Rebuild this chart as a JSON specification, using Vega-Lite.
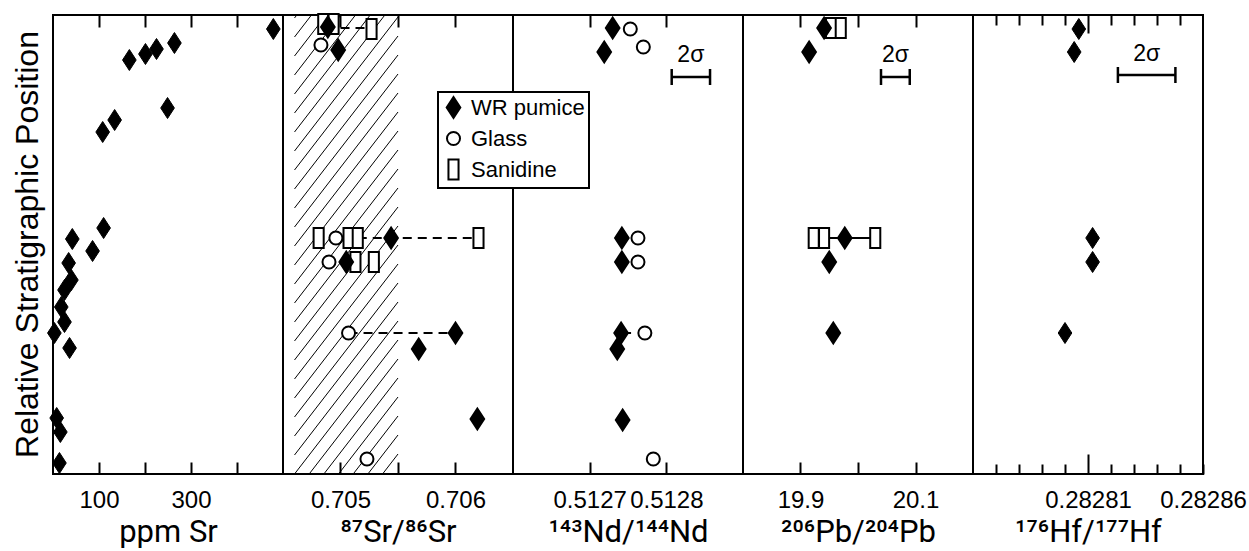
{
  "$schema": "https://vega.github.io/schema/vega-lite/v6.json",
  "padding": {"left": 10, "top": 9, "right": 0, "bottom": 0},
  "background": "white",
  "spacing": 0,
  "bounds": "flush",
  "datasets": {
    "pts": [
      {"panel": "ppm", "phase": "WR pumice", "pos": 445, "v": 479},
      {"panel": "ppm", "phase": "WR pumice", "pos": 431, "v": 264},
      {"panel": "ppm", "phase": "WR pumice", "pos": 425, "v": 225},
      {"panel": "ppm", "phase": "WR pumice", "pos": 420, "v": 201},
      {"panel": "ppm", "phase": "WR pumice", "pos": 414, "v": 166},
      {"panel": "ppm", "phase": "WR pumice", "pos": 366, "v": 249},
      {"panel": "ppm", "phase": "WR pumice", "pos": 354, "v": 134},
      {"panel": "ppm", "phase": "WR pumice", "pos": 342, "v": 108},
      {"panel": "ppm", "phase": "WR pumice", "pos": 246, "v": 110},
      {"panel": "ppm", "phase": "WR pumice", "pos": 235, "v": 42},
      {"panel": "ppm", "phase": "WR pumice", "pos": 223, "v": 86},
      {"panel": "ppm", "phase": "WR pumice", "pos": 211, "v": 34},
      {"panel": "ppm", "phase": "WR pumice", "pos": 194, "v": 40},
      {"panel": "ppm", "phase": "WR pumice", "pos": 184, "v": 25},
      {"panel": "ppm", "phase": "WR pumice", "pos": 167, "v": 18},
      {"panel": "ppm", "phase": "WR pumice", "pos": 152, "v": 25},
      {"panel": "ppm", "phase": "WR pumice", "pos": 141, "v": 3},
      {"panel": "ppm", "phase": "WR pumice", "pos": 126, "v": 36},
      {"panel": "ppm", "phase": "WR pumice", "pos": 56, "v": 8},
      {"panel": "ppm", "phase": "WR pumice", "pos": 42, "v": 16},
      {"panel": "ppm", "phase": "WR pumice", "pos": 11, "v": 14},

      {"panel": "sr", "phase": "Sanidine", "pos": 450, "v": 0.70485},
      {"panel": "sr", "phase": "Sanidine", "pos": 450, "v": 0.70494},
      {"panel": "sr", "phase": "Sanidine", "pos": 445, "v": 0.70527},
      {"panel": "sr", "phase": "Sanidine", "pos": 236, "v": 0.70481},
      {"panel": "sr", "phase": "Sanidine", "pos": 236, "v": 0.70507},
      {"panel": "sr", "phase": "Sanidine", "pos": 236, "v": 0.70515},
      {"panel": "sr", "phase": "Sanidine", "pos": 236, "v": 0.70620},
      {"panel": "sr", "phase": "Sanidine", "pos": 212, "v": 0.70513},
      {"panel": "sr", "phase": "Sanidine", "pos": 212, "v": 0.70529},
      {"panel": "sr", "phase": "Glass", "pos": 429, "v": 0.70483},
      {"panel": "sr", "phase": "Glass", "pos": 236, "v": 0.70496},
      {"panel": "sr", "phase": "Glass", "pos": 212, "v": 0.70490},
      {"panel": "sr", "phase": "Glass", "pos": 141, "v": 0.70507},
      {"panel": "sr", "phase": "Glass", "pos": 15, "v": 0.70523},
      {"panel": "sr", "phase": "WR pumice", "pos": 447, "v": 0.70489},
      {"panel": "sr", "phase": "WR pumice", "pos": 424, "v": 0.70498},
      {"panel": "sr", "phase": "WR pumice", "pos": 236, "v": 0.70544},
      {"panel": "sr", "phase": "WR pumice", "pos": 212, "v": 0.70505},
      {"panel": "sr", "phase": "WR pumice", "pos": 141, "v": 0.70600},
      {"panel": "sr", "phase": "WR pumice", "pos": 125, "v": 0.70568},
      {"panel": "sr", "phase": "WR pumice", "pos": 55, "v": 0.70619},

      {"panel": "nd", "phase": "Glass", "pos": 445, "v": 0.512753},
      {"panel": "nd", "phase": "Glass", "pos": 427, "v": 0.51277},
      {"panel": "nd", "phase": "Glass", "pos": 236, "v": 0.512763},
      {"panel": "nd", "phase": "Glass", "pos": 212, "v": 0.512763},
      {"panel": "nd", "phase": "Glass", "pos": 141, "v": 0.512772},
      {"panel": "nd", "phase": "Glass", "pos": 15, "v": 0.512783},
      {"panel": "nd", "phase": "WR pumice", "pos": 446, "v": 0.51273},
      {"panel": "nd", "phase": "WR pumice", "pos": 422, "v": 0.512719},
      {"panel": "nd", "phase": "WR pumice", "pos": 236, "v": 0.512742},
      {"panel": "nd", "phase": "WR pumice", "pos": 212, "v": 0.512742},
      {"panel": "nd", "phase": "WR pumice", "pos": 141, "v": 0.512741},
      {"panel": "nd", "phase": "WR pumice", "pos": 125, "v": 0.512736},
      {"panel": "nd", "phase": "WR pumice", "pos": 54, "v": 0.512743},

      {"panel": "pb", "phase": "Sanidine", "pos": 446, "v": 19.953},
      {"panel": "pb", "phase": "Sanidine", "pos": 446, "v": 19.970},
      {"panel": "pb", "phase": "Sanidine", "pos": 236, "v": 19.923},
      {"panel": "pb", "phase": "Sanidine", "pos": 236, "v": 19.941},
      {"panel": "pb", "phase": "Sanidine", "pos": 236, "v": 20.030},
      {"panel": "pb", "phase": "WR pumice", "pos": 446, "v": 19.941},
      {"panel": "pb", "phase": "WR pumice", "pos": 422, "v": 19.915},
      {"panel": "pb", "phase": "WR pumice", "pos": 236, "v": 19.977},
      {"panel": "pb", "phase": "WR pumice", "pos": 212, "v": 19.950},
      {"panel": "pb", "phase": "WR pumice", "pos": 141, "v": 19.957},

      {"panel": "hf", "phase": "WR pumice", "pos": 445, "v": 0.282806},
      {"panel": "hf", "phase": "WR pumice", "pos": 422, "v": 0.282804},
      {"panel": "hf", "phase": "WR pumice", "pos": 236, "v": 0.282812},
      {"panel": "hf", "phase": "WR pumice", "pos": 212, "v": 0.282812},
      {"panel": "hf", "phase": "WR pumice", "pos": 141, "v": 0.2828}
    ],
    "links": [
      {"panel": "sr", "pos": 446, "lo": 0.70500, "hi": 0.70527},
      {"panel": "sr", "pos": 236, "lo": 0.70515, "hi": 0.70620},
      {"panel": "sr", "pos": 141, "lo": 0.70507, "hi": 0.70600},
      {"panel": "nd", "pos": 141, "lo": 0.512741, "hi": 0.512754},
      {"panel": "pb", "pos": 236, "lo": 19.941, "hi": 20.030}
    ],
    "sigma": [
      {"panel": "nd", "lo": 0.512807, "hi": 0.512857, "mid": 0.512832, "pos": 397, "tpos": 419, "label": "2σ"},
      {"panel": "pb", "lo": 20.040, "hi": 20.090, "mid": 20.065, "pos": 397, "tpos": 419, "label": "2σ"},
      {"panel": "hf", "lo": 0.282823, "hi": 0.282848, "mid": 0.2828355, "pos": 399, "tpos": 420, "label": "2σ"}
    ],
    "hatch": [
      {"y1": -133, "y2": 1}, {"y1": -114, "y2": 20}, {"y1": -95, "y2": 39}, {"y1": -76, "y2": 58},
      {"y1": -57, "y2": 77}, {"y1": -38, "y2": 96}, {"y1": -19, "y2": 115}, {"y1": 0, "y2": 134},
      {"y1": 19, "y2": 153}, {"y1": 38, "y2": 172}, {"y1": 57, "y2": 191}, {"y1": 76, "y2": 210},
      {"y1": 95, "y2": 229}, {"y1": 114, "y2": 248}, {"y1": 133, "y2": 267}, {"y1": 152, "y2": 286},
      {"y1": 171, "y2": 305}, {"y1": 190, "y2": 324}, {"y1": 209, "y2": 343}, {"y1": 228, "y2": 362},
      {"y1": 247, "y2": 381}, {"y1": 266, "y2": 400}, {"y1": 285, "y2": 419}, {"y1": 304, "y2": 438},
      {"y1": 323, "y2": 457}, {"y1": 342, "y2": 476}, {"y1": 361, "y2": 495}, {"y1": 380, "y2": 514},
      {"y1": 399, "y2": 533}, {"y1": 418, "y2": 552}, {"y1": 437, "y2": 571}, {"y1": 456, "y2": 590}
    ]
  },
  "hconcat": [
    {
      "width": 230, "height": 459,
      "title": {"text": "Relative Stratigraphic Position", "orient": "left", "anchor": "middle", "frame": "group", "fontSize": 32, "font": "Liberation Sans", "fontWeight": "normal", "color": "black", "offset": 1},
      "layer": [
        {
          "data": {"name": "pts"},
          "transform": [{"filter": "datum.panel == 'ppm'"}],
          "mark": {"type": "point", "size": 441, "strokeWidth": 1, "opacity": 1, "fillOpacity": 1},
          "encoding": {
            "x": {"field": "v", "type": "quantitative", "scale": {"domain": [0, 500], "nice": false, "zero": false},
                  "axis": {"orient": "bottom", "values": [100, 200, 300, 400], "format": "d", "labelExpr": "datum.value == 100 || datum.value == 300 ? datum.label : ''", "title": "ppm Sr"}},
            "y": {"field": "pos", "type": "quantitative", "scale": {"domain": [0, 459], "nice": false, "zero": false}, "axis": null},
            "shape": {"field": "phase", "type": "nominal", "legend": {"title": null},
                      "scale": {"domain": ["WR pumice", "Glass", "Sanidine"], "range": ["M0,-1L0.65,0L0,1L-0.65,0Z", "M0.62,0A0.62,0.62,0,1,1,-0.62,0A0.62,0.62,0,1,1,0.62,0Z", "M-0.48,-0.95L0.48,-0.95L0.48,0.95L-0.48,0.95Z"]}},
            "fill": {"field": "phase", "type": "nominal", "legend": {"title": null},
                     "scale": {"domain": ["WR pumice", "Glass", "Sanidine"], "range": ["black", "white", "white"]}},
            "stroke": {"field": "phase", "type": "nominal", "legend": {"title": null},
                     "scale": {"domain": ["WR pumice", "Glass", "Sanidine"], "range": ["black", "black", "black"]}}
          }
        },
        {
          "data": {"name": "pts"},
          "transform": [{"filter": "datum.panel == 'ppm'"}],
          "mark": {"type": "point", "opacity": 0},
          "encoding": {
            "x": {"field": "v", "type": "quantitative", "scale": {"domain": [0, 500], "nice": false, "zero": false},
                  "axis": {"orient": "top", "values": [100, 200, 300, 400], "labels": false, "title": null}},
            "y": {"field": "pos", "type": "quantitative", "scale": {"domain": [0, 459], "nice": false, "zero": false}, "axis": null}
          }
        }
      ],
      "resolve": {"axis": {"x": "independent"}}
    },
    {
      "width": 230, "height": 459,
      "layer": [
        {
          "data": {"name": "hatch"},
          "mark": {"type": "rule", "clip": true, "stroke": "black", "strokeWidth": 1},
          "encoding": {
            "x": {"datum": 0.7046, "type": "quantitative", "scale": {"domain": [0.7045, 0.7065], "nice": false, "zero": false}, "axis": null},
            "x2": {"datum": 0.7055},
            "y": {"field": "y1", "type": "quantitative", "scale": {"domain": [0, 459], "nice": false, "zero": false}, "axis": null},
            "y2": {"field": "y2"}
          }
        },
        {
          "data": {"name": "links"},
          "transform": [{"filter": "datum.panel == 'sr'"}],
          "mark": {"type": "rule", "stroke": "black", "strokeWidth": 2, "strokeDash": [9, 6]},
          "encoding": {
            "x": {"field": "lo", "type": "quantitative", "scale": {"domain": [0.7045, 0.7065], "nice": false, "zero": false}, "axis": null},
            "x2": {"field": "hi"},
            "y": {"field": "pos", "type": "quantitative", "scale": {"domain": [0, 459], "nice": false, "zero": false}, "axis": null}
          }
        },
        {
          "data": {"name": "pts"},
          "transform": [{"filter": "datum.panel == 'sr'"}],
          "mark": {"type": "point", "size": 441, "strokeWidth": 2, "opacity": 1, "fillOpacity": 1},
          "encoding": {
            "x": {"field": "v", "type": "quantitative", "scale": {"domain": [0.7045, 0.7065], "nice": false, "zero": false},
                  "axis": {"orient": "bottom", "values": [0.705, 0.7055, 0.706], "format": ".3f", "labelExpr": "abs(datum.value - 0.7055) < 1e-7 ? '' : datum.label", "title": "⁸⁷Sr/⁸⁶Sr"}},
            "y": {"field": "pos", "type": "quantitative", "scale": {"domain": [0, 459], "nice": false, "zero": false}, "axis": null},
            "shape": {"field": "phase", "type": "nominal", "legend": {"title": null},
                      "scale": {"domain": ["WR pumice", "Glass", "Sanidine"], "range": ["M0,-1L0.65,0L0,1L-0.65,0Z", "M0.62,0A0.62,0.62,0,1,1,-0.62,0A0.62,0.62,0,1,1,0.62,0Z", "M-0.48,-0.95L0.48,-0.95L0.48,0.95L-0.48,0.95Z"]}},
            "fill": {"field": "phase", "type": "nominal", "legend": {"title": null},
                     "scale": {"domain": ["WR pumice", "Glass", "Sanidine"], "range": ["black", "white", "white"]}},
            "stroke": {"field": "phase", "type": "nominal", "legend": {"title": null},
                     "scale": {"domain": ["WR pumice", "Glass", "Sanidine"], "range": ["black", "black", "black"]}}
          }
        },
        {
          "data": {"name": "pts"},
          "transform": [{"filter": "datum.panel == 'sr'"}],
          "mark": {"type": "point", "opacity": 0},
          "encoding": {
            "x": {"field": "v", "type": "quantitative", "scale": {"domain": [0.7045, 0.7065], "nice": false, "zero": false},
                  "axis": {"orient": "top", "values": [0.705, 0.7055, 0.706], "labels": false, "title": null}},
            "y": {"field": "pos", "type": "quantitative", "scale": {"domain": [0, 459], "nice": false, "zero": false}, "axis": null}
          }
        }
      ],
      "resolve": {"axis": {"x": "independent"}}
    },
    {
      "width": 230, "height": 459,
      "layer": [
        {
          "data": {"name": "links"},
          "transform": [{"filter": "datum.panel == 'nd'"}],
          "mark": {"type": "rule", "stroke": "black", "strokeWidth": 2},
          "encoding": {
            "x": {"field": "lo", "type": "quantitative", "scale": {"domain": [0.5126, 0.5129], "nice": false, "zero": false}, "axis": null},
            "x2": {"field": "hi"},
            "y": {"field": "pos", "type": "quantitative", "scale": {"domain": [0, 459], "nice": false, "zero": false}, "axis": null}
          }
        },
        {
          "data": {"name": "sigma"},
          "transform": [{"filter": "datum.panel == 'nd'"}],
          "mark": {"type": "rule", "stroke": "black", "strokeWidth": 2.5},
          "encoding": {
            "x": {"field": "lo", "type": "quantitative", "scale": {"domain": [0.5126, 0.5129], "nice": false, "zero": false}, "axis": null},
            "x2": {"field": "hi"},
            "y": {"field": "pos", "type": "quantitative", "scale": {"domain": [0, 459], "nice": false, "zero": false}, "axis": null}
          }
        },
        {
          "data": {"name": "sigma"},
          "transform": [{"filter": "datum.panel == 'nd'"}],
          "mark": {"type": "tick", "orient": "vertical", "size": 16, "thickness": 2.5, "color": "black", "opacity": 1},
          "encoding": {
            "x": {"field": "lo", "type": "quantitative", "scale": {"domain": [0.5126, 0.5129], "nice": false, "zero": false}, "axis": null},
            "y": {"field": "pos", "type": "quantitative", "scale": {"domain": [0, 459], "nice": false, "zero": false}, "axis": null}
          }
        },
        {
          "data": {"name": "sigma"},
          "transform": [{"filter": "datum.panel == 'nd'"}],
          "mark": {"type": "tick", "orient": "vertical", "size": 16, "thickness": 2.5, "color": "black", "opacity": 1},
          "encoding": {
            "x": {"field": "hi", "type": "quantitative", "scale": {"domain": [0.5126, 0.5129], "nice": false, "zero": false}, "axis": null},
            "y": {"field": "pos", "type": "quantitative", "scale": {"domain": [0, 459], "nice": false, "zero": false}, "axis": null}
          }
        },
        {
          "data": {"name": "sigma"},
          "transform": [{"filter": "datum.panel == 'nd'"}],
          "mark": {"type": "text", "fontSize": 23, "font": "Liberation Sans", "color": "black", "baseline": "middle", "align": "center"},
          "encoding": {
            "x": {"field": "mid", "type": "quantitative", "scale": {"domain": [0.5126, 0.5129], "nice": false, "zero": false}, "axis": null},
            "y": {"field": "tpos", "type": "quantitative", "scale": {"domain": [0, 459], "nice": false, "zero": false}, "axis": null},
            "text": {"field": "label"}
          }
        },
        {
          "data": {"name": "pts"},
          "transform": [{"filter": "datum.panel == 'nd'"}],
          "mark": {"type": "point", "size": 441, "strokeWidth": 2, "opacity": 1, "fillOpacity": 1},
          "encoding": {
            "x": {"field": "v", "type": "quantitative", "scale": {"domain": [0.5126, 0.5129], "nice": false, "zero": false},
                  "axis": {"orient": "bottom", "values": [0.5127, 0.5128], "format": ".4f", "title": "¹⁴³Nd/¹⁴⁴Nd"}},
            "y": {"field": "pos", "type": "quantitative", "scale": {"domain": [0, 459], "nice": false, "zero": false}, "axis": null},
            "shape": {"field": "phase", "type": "nominal", "legend": {"title": null},
                      "scale": {"domain": ["WR pumice", "Glass", "Sanidine"], "range": ["M0,-1L0.65,0L0,1L-0.65,0Z", "M0.62,0A0.62,0.62,0,1,1,-0.62,0A0.62,0.62,0,1,1,0.62,0Z", "M-0.48,-0.95L0.48,-0.95L0.48,0.95L-0.48,0.95Z"]}},
            "fill": {"field": "phase", "type": "nominal", "legend": {"title": null},
                     "scale": {"domain": ["WR pumice", "Glass", "Sanidine"], "range": ["black", "white", "white"]}},
            "stroke": {"field": "phase", "type": "nominal", "legend": {"title": null},
                     "scale": {"domain": ["WR pumice", "Glass", "Sanidine"], "range": ["black", "black", "black"]}}
          }
        },
        {
          "data": {"name": "pts"},
          "transform": [{"filter": "datum.panel == 'nd'"}],
          "mark": {"type": "point", "opacity": 0},
          "encoding": {
            "x": {"field": "v", "type": "quantitative", "scale": {"domain": [0.5126, 0.5129], "nice": false, "zero": false},
                  "axis": {"orient": "top", "values": [0.5127, 0.5128], "labels": false, "title": null}},
            "y": {"field": "pos", "type": "quantitative", "scale": {"domain": [0, 459], "nice": false, "zero": false}, "axis": null}
          }
        }
      ],
      "resolve": {"axis": {"x": "independent"}}
    },
    {
      "width": 230, "height": 459,
      "layer": [
        {
          "data": {"name": "links"},
          "transform": [{"filter": "datum.panel == 'pb'"}],
          "mark": {"type": "rule", "stroke": "black", "strokeWidth": 2},
          "encoding": {
            "x": {"field": "lo", "type": "quantitative", "scale": {"domain": [19.8, 20.2], "nice": false, "zero": false}, "axis": null},
            "x2": {"field": "hi"},
            "y": {"field": "pos", "type": "quantitative", "scale": {"domain": [0, 459], "nice": false, "zero": false}, "axis": null}
          }
        },
        {
          "data": {"name": "sigma"},
          "transform": [{"filter": "datum.panel == 'pb'"}],
          "mark": {"type": "rule", "stroke": "black", "strokeWidth": 2.5},
          "encoding": {
            "x": {"field": "lo", "type": "quantitative", "scale": {"domain": [19.8, 20.2], "nice": false, "zero": false}, "axis": null},
            "x2": {"field": "hi"},
            "y": {"field": "pos", "type": "quantitative", "scale": {"domain": [0, 459], "nice": false, "zero": false}, "axis": null}
          }
        },
        {
          "data": {"name": "sigma"},
          "transform": [{"filter": "datum.panel == 'pb'"}],
          "mark": {"type": "tick", "orient": "vertical", "size": 16, "thickness": 2.5, "color": "black", "opacity": 1},
          "encoding": {
            "x": {"field": "lo", "type": "quantitative", "scale": {"domain": [19.8, 20.2], "nice": false, "zero": false}, "axis": null},
            "y": {"field": "pos", "type": "quantitative", "scale": {"domain": [0, 459], "nice": false, "zero": false}, "axis": null}
          }
        },
        {
          "data": {"name": "sigma"},
          "transform": [{"filter": "datum.panel == 'pb'"}],
          "mark": {"type": "tick", "orient": "vertical", "size": 16, "thickness": 2.5, "color": "black", "opacity": 1},
          "encoding": {
            "x": {"field": "hi", "type": "quantitative", "scale": {"domain": [19.8, 20.2], "nice": false, "zero": false}, "axis": null},
            "y": {"field": "pos", "type": "quantitative", "scale": {"domain": [0, 459], "nice": false, "zero": false}, "axis": null}
          }
        },
        {
          "data": {"name": "sigma"},
          "transform": [{"filter": "datum.panel == 'pb'"}],
          "mark": {"type": "text", "fontSize": 23, "font": "Liberation Sans", "color": "black", "baseline": "middle", "align": "center"},
          "encoding": {
            "x": {"field": "mid", "type": "quantitative", "scale": {"domain": [19.8, 20.2], "nice": false, "zero": false}, "axis": null},
            "y": {"field": "tpos", "type": "quantitative", "scale": {"domain": [0, 459], "nice": false, "zero": false}, "axis": null},
            "text": {"field": "label"}
          }
        },
        {
          "data": {"name": "pts"},
          "transform": [{"filter": "datum.panel == 'pb'"}],
          "mark": {"type": "point", "size": 441, "strokeWidth": 2, "opacity": 1, "fillOpacity": 1},
          "encoding": {
            "x": {"field": "v", "type": "quantitative", "scale": {"domain": [19.8, 20.2], "nice": false, "zero": false},
                  "axis": {"orient": "bottom", "values": [19.9, 20.0, 20.1], "format": ".1f", "labelExpr": "abs(datum.value - 20) < 1e-6 ? '' : datum.label", "title": "²⁰⁶Pb/²⁰⁴Pb"}},
            "y": {"field": "pos", "type": "quantitative", "scale": {"domain": [0, 459], "nice": false, "zero": false}, "axis": null},
            "shape": {"field": "phase", "type": "nominal", "legend": {"title": null},
                      "scale": {"domain": ["WR pumice", "Glass", "Sanidine"], "range": ["M0,-1L0.65,0L0,1L-0.65,0Z", "M0.62,0A0.62,0.62,0,1,1,-0.62,0A0.62,0.62,0,1,1,0.62,0Z", "M-0.48,-0.95L0.48,-0.95L0.48,0.95L-0.48,0.95Z"]}},
            "fill": {"field": "phase", "type": "nominal", "legend": {"title": null},
                     "scale": {"domain": ["WR pumice", "Glass", "Sanidine"], "range": ["black", "white", "white"]}},
            "stroke": {"field": "phase", "type": "nominal", "legend": {"title": null},
                     "scale": {"domain": ["WR pumice", "Glass", "Sanidine"], "range": ["black", "black", "black"]}}
          }
        },
        {
          "data": {"name": "pts"},
          "transform": [{"filter": "datum.panel == 'pb'"}],
          "mark": {"type": "point", "opacity": 0},
          "encoding": {
            "x": {"field": "v", "type": "quantitative", "scale": {"domain": [19.8, 20.2], "nice": false, "zero": false},
                  "axis": {"orient": "top", "values": [19.9, 20.0, 20.1], "labels": false, "title": null}},
            "y": {"field": "pos", "type": "quantitative", "scale": {"domain": [0, 459], "nice": false, "zero": false}, "axis": null}
          }
        }
      ],
      "resolve": {"axis": {"x": "independent"}}
    },
    {
      "width": 230, "height": 459,
      "layer": [
        {
          "data": {"name": "sigma"},
          "transform": [{"filter": "datum.panel == 'hf'"}],
          "mark": {"type": "rule", "stroke": "black", "strokeWidth": 2.5},
          "encoding": {
            "x": {"field": "lo", "type": "quantitative", "scale": {"domain": [0.28276, 0.28286], "nice": false, "zero": false}, "axis": null},
            "x2": {"field": "hi"},
            "y": {"field": "pos", "type": "quantitative", "scale": {"domain": [0, 459], "nice": false, "zero": false}, "axis": null}
          }
        },
        {
          "data": {"name": "sigma"},
          "transform": [{"filter": "datum.panel == 'hf'"}],
          "mark": {"type": "tick", "orient": "vertical", "size": 16, "thickness": 2.5, "color": "black", "opacity": 1},
          "encoding": {
            "x": {"field": "lo", "type": "quantitative", "scale": {"domain": [0.28276, 0.28286], "nice": false, "zero": false}, "axis": null},
            "y": {"field": "pos", "type": "quantitative", "scale": {"domain": [0, 459], "nice": false, "zero": false}, "axis": null}
          }
        },
        {
          "data": {"name": "sigma"},
          "transform": [{"filter": "datum.panel == 'hf'"}],
          "mark": {"type": "tick", "orient": "vertical", "size": 16, "thickness": 2.5, "color": "black", "opacity": 1},
          "encoding": {
            "x": {"field": "hi", "type": "quantitative", "scale": {"domain": [0.28276, 0.28286], "nice": false, "zero": false}, "axis": null},
            "y": {"field": "pos", "type": "quantitative", "scale": {"domain": [0, 459], "nice": false, "zero": false}, "axis": null}
          }
        },
        {
          "data": {"name": "sigma"},
          "transform": [{"filter": "datum.panel == 'hf'"}],
          "mark": {"type": "text", "fontSize": 23, "font": "Liberation Sans", "color": "black", "baseline": "middle", "align": "center"},
          "encoding": {
            "x": {"field": "mid", "type": "quantitative", "scale": {"domain": [0.28276, 0.28286], "nice": false, "zero": false}, "axis": null},
            "y": {"field": "tpos", "type": "quantitative", "scale": {"domain": [0, 459], "nice": false, "zero": false}, "axis": null},
            "text": {"field": "label"}
          }
        },
        {
          "data": {"name": "pts"},
          "transform": [{"filter": "datum.panel == 'hf'"}],
          "mark": {"type": "point", "size": 441, "strokeWidth": 1, "opacity": 1, "fillOpacity": 1},
          "encoding": {
            "x": {"field": "v", "type": "quantitative", "scale": {"domain": [0.28276, 0.28286], "nice": false, "zero": false},
                  "axis": {"orient": "bottom", "values": [0.28277, 0.28278, 0.28279, 0.2828, 0.28281, 0.28282, 0.28283, 0.28284, 0.28285, 0.28286], "format": ".5f",
                           "labelExpr": "abs(datum.value - 0.28281) < 1e-9 || abs(datum.value - 0.28286) < 1e-9 ? datum.label : ''",
                           "tickSize": {"condition": {"test": "abs(datum.value - 0.28281) < 1e-9", "value": -20}, "value": -10},
                           "labelPadding": {"condition": {"test": "abs(datum.value - 0.28281) < 1e-9", "value": 34}, "value": 24},
                           "title": "¹⁷⁶Hf/¹⁷⁷Hf"}},
            "y": {"field": "pos", "type": "quantitative", "scale": {"domain": [0, 459], "nice": false, "zero": false}, "axis": null},
            "shape": {"field": "phase", "type": "nominal", "legend": {"title": null},
                      "scale": {"domain": ["WR pumice", "Glass", "Sanidine"], "range": ["M0,-1L0.65,0L0,1L-0.65,0Z", "M0.62,0A0.62,0.62,0,1,1,-0.62,0A0.62,0.62,0,1,1,0.62,0Z", "M-0.48,-0.95L0.48,-0.95L0.48,0.95L-0.48,0.95Z"]}},
            "fill": {"field": "phase", "type": "nominal", "legend": {"title": null},
                     "scale": {"domain": ["WR pumice", "Glass", "Sanidine"], "range": ["black", "white", "white"]}},
            "stroke": {"field": "phase", "type": "nominal", "legend": {"title": null},
                     "scale": {"domain": ["WR pumice", "Glass", "Sanidine"], "range": ["black", "black", "black"]}}
          }
        },
        {
          "data": {"name": "pts"},
          "transform": [{"filter": "datum.panel == 'hf'"}],
          "mark": {"type": "point", "opacity": 0},
          "encoding": {
            "x": {"field": "v", "type": "quantitative", "scale": {"domain": [0.28276, 0.28286], "nice": false, "zero": false},
                  "axis": {"orient": "top", "values": [0.28277, 0.28278, 0.28279, 0.2828, 0.28281, 0.28282, 0.28283, 0.28284, 0.28285], "labels": false, "title": null,
                           "tickSize": {"condition": {"test": "abs(datum.value - 0.28281) < 1e-9", "value": -18}, "value": -10}}},
            "y": {"field": "pos", "type": "quantitative", "scale": {"domain": [0, 459], "nice": false, "zero": false}, "axis": null}
          }
        }
      ],
      "resolve": {"axis": {"x": "independent"}}
    }
  ],
  "resolve": {"scale": {"shape": "shared", "fill": "shared", "stroke": "shared"}, "legend": {"shape": "shared", "fill": "shared", "stroke": "shared"}},
  "config": {
    "font": "Liberation Sans",
    "view": {"stroke": "black", "strokeWidth": 2},
    "axis": {
      "domain": false, "grid": false, "tickColor": "black", "tickWidth": 2, "tickSize": -12,
      "labelFontSize": 24, "labelColor": "black", "labelFont": "Liberation Sans",
      "titleFont": "Roboto", "titleFontSize": 31, "titleFontWeight": "normal", "titleColor": "black",
      "labelFlush": false, "labelOverlap": false, "labelBound": false, "labelPadding": 26, "titlePadding": 5
    },
    "legend": {
      "orient": "none", "legendX": 385, "legendY": 77,
      "labelFontSize": 22, "labelFont": "Liberation Sans", "labelColor": "black",
      "symbolSize": 441, "symbolStrokeWidth": 2, "symbolStrokeColor": "black",
      "strokeColor": "black", "strokeWidth": 2, "fillColor": "white",
      "padding": 4, "rowPadding": 5, "labelOffset": 6
    }
  }
}
